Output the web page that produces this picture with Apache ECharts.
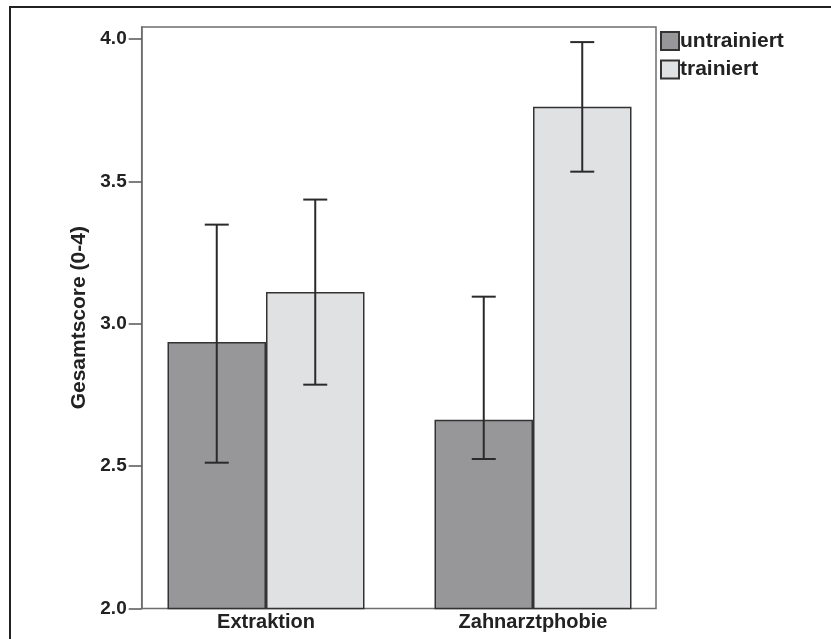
<!DOCTYPE html>
<html>
<head>
<meta charset="utf-8">
<script src="https://cdn.jsdelivr.net/npm/echarts@6/dist/echarts.min.js"></script>
<style>html,body{margin:0;padding:0;background:#fff;}#c{width:831px;height:639px;}</style>
</head>
<body>
<div id="c"></div>
<script>
const categories = ['Extraktion', 'Zahnarztphobie'];
const seriesNames = ['untrainiert', 'trainiert'];
const untrainiert = [2.936, 2.663];
const trainiert = [3.111, 3.762];
const untrainiertLow = [2.512, 2.525];
const untrainiertHigh = [3.348, 3.095];
const trainiertLow = [2.786, 3.534];
const trainiertHigh = [3.436, 3.989];
const yTicks = [2.0, 2.5, 3.0, 3.5, 4.0];

const FONT = '"Liberation Sans", Arial, sans-serif';
const BAR_W = 98.5;
const yMin = 2, yMax = 4.042;

function errData(low, high) {
  return categories.map((c, i) => [i, low[i], high[i]]);
}
function errSeries(name, low, high, side) {
  return {
    type: 'custom', name: name + '_err', xAxisIndex: 0, yAxisIndex: 0, z: 5,
    silent: true,
    data: errData(low, high),
    encode: { x: 0, y: [1, 2] },
    renderItem: function (params, api) {
      const x = api.value(0);
      const lo = api.coord([x, api.value(1)]);
      const hi = api.coord([x, api.value(2)]);
      const cx = lo[0] + side * BAR_W / 2;
      const hw = 12;
      const st = { stroke: '#2a2a2a', lineWidth: 2 };
      return { type: 'group', children: [
        { type: 'line', shape: { x1: cx, y1: lo[1], x2: cx, y2: hi[1] }, style: st },
        { type: 'line', shape: { x1: cx - hw, y1: hi[1], x2: cx + hw, y2: hi[1] }, style: st },
        { type: 'line', shape: { x1: cx - hw, y1: lo[1], x2: cx + hw, y2: lo[1] }, style: st }
      ]};
    }
  };
}

const chart = echarts.init(document.getElementById('c'));
chart.setOption({
  animation: false,
  backgroundColor: '#fff',
  graphic: [{ type: 'rect', shape: { x: 10, y: 7, width: 900, height: 700 }, style: { fill: 'none', stroke: '#222', lineWidth: 2 }, z: 100 }],
  grid: [
    { left: 132.5, right: 164.5, top: 27, bottom: 30.5, show: false },
    { left: 141.7, right: 175, top: 27, bottom: 30.5, show: true, borderColor: '#6e6e6e', borderWidth: 1.5, backgroundColor: 'transparent' }
  ],
  legend: {
    orient: 'vertical', left: 660, top: 30.5, padding: 0,
    itemWidth: 18, itemHeight: 18, itemGap: 7.5, icon: 'rect',
    data: seriesNames,
    textStyle: { fontFamily: FONT, fontWeight: 'bold', fontSize: 21, color: '#222', lineHeight: 18, padding: [0, 0, 0, -4] }
  },
  xAxis: [
    { type: 'category', gridIndex: 0, data: categories,
      axisLine: { show: false }, axisTick: { show: false },
      axisLabel: { fontFamily: FONT, fontWeight: 'bold', fontSize: 20, color: '#222', margin: 4 } },
    { type: 'category', gridIndex: 1, data: categories, show: false }
  ],
  yAxis: [
    { type: 'value', gridIndex: 0, min: yMin, max: yMax, show: false, splitLine: { show: false } },
    { type: 'value', gridIndex: 1, min: yMin, max: yMax,
      splitLine: { show: false },
      axisLine: { show: true, lineStyle: { color: '#6e6e6e', width: 1.5 } },
      axisTick: { show: true, length: 13, customValues: yTicks, lineStyle: { color: '#555', width: 1.5 } },
      axisLabel: { customValues: yTicks, formatter: v => v.toFixed(1), fontFamily: FONT, fontWeight: 'bold', fontSize: 19, color: '#222', margin: 15 },
      name: 'Gesamtscore (0-4)', nameLocation: 'middle', nameGap: 52, nameRotate: 90,
      nameTextStyle: { fontFamily: FONT, fontWeight: 'bold', fontSize: 21, color: '#222' } }
  ],
  series: [
    { type: 'bar', name: seriesNames[0], xAxisIndex: 0, yAxisIndex: 0, data: untrainiert, barWidth: BAR_W, barGap: '0%',
      itemStyle: { color: '#97979a', borderColor: '#333', borderWidth: 1.5 } },
    { type: 'bar', name: seriesNames[1], xAxisIndex: 0, yAxisIndex: 0, data: trainiert, barWidth: BAR_W, barGap: '0%',
      itemStyle: { color: '#e0e1e3', borderColor: '#333', borderWidth: 1.5 } },
    errSeries(seriesNames[0], untrainiertLow, untrainiertHigh, -1),
    errSeries(seriesNames[1], trainiertLow, trainiertHigh, 1)
  ]
});
</script>
</body>
</html>
